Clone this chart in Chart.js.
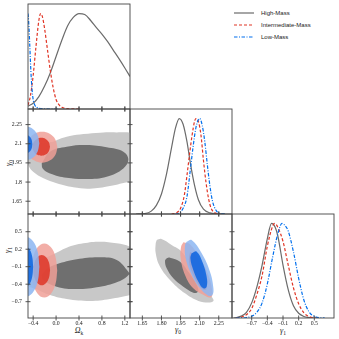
<!DOCTYPE html>
<html>
<head>
<meta charset="utf-8">
<script src="https://cdn.jsdelivr.net/npm/chart.js@4.4.1/dist/chart.umd.min.js"></script>
<style>
html, body { margin:0; padding:0; background:#fff; }
#wrap { position:relative; width:339px; height:339px; overflow:hidden; }
#wrap canvas { position:absolute; left:0; top:0; }
.lab { position:absolute; font-family:'Liberation Serif', serif; font-style:italic; font-size:8px; color:#222; white-space:nowrap; transform:translate(-50%,-50%); }
.lab sub { font-size:5.5px; font-style:normal; vertical-align:-1.5px; }
.rot { transform:translate(-50%,-50%) rotate(-90deg); }
#legend { position:absolute; left:234px; top:6.5px; font-family:'Liberation Sans', sans-serif; font-size:6px; color:#222; }
#legend div { height:12.3px; display:flex; align-items:center; }
#legend svg { margin-right:7px; }
</style>
</head>
<body>
<div id="wrap">
  <div class="lab" style="left:79px;top:331px">Ω<sub>k</sub></div>
  <div class="lab" style="left:178px;top:330px">γ<sub>0</sub></div>
  <div class="lab" style="left:283px;top:331px">γ<sub>1</sub></div>
  <div class="lab rot" style="left:9px;top:163px">γ<sub>0</sub></div>
  <div class="lab rot" style="left:8px;top:250px">γ<sub>1</sub></div>
  <div id="legend"></div>
</div>
<script>
// SERIES
const seriesNames = ['High-Mass', 'Intermediate-Mass', 'Low-Mass'];

// TICKS
const omegaTicks = [-0.4, 0.0, 0.4, 0.8, 1.2];
const omegaLabels = ['\u22120.4', '0.0', '0.4', '0.8', '1.2'];
const gamma0Ticks = [1.65, 1.80, 1.95, 2.10, 2.25];
const gamma0XLabels = ['1.65', '1.80', '1.95', '2.10', '2.25'];
const gamma0YLabels = ['1.65', '1.8', '1.95', '2.1', '2.25'];
const gamma1Ticks = [-0.7, -0.4, -0.1, 0.2, 0.5];
const gamma1Labels = ['\u22120.7', '\u22120.4', '\u22120.1', '0.2', '0.5'];

// 1D POSTERIORS  [value, density]
const omegaHigh = [[-0.49,0.03],[-0.4,0.06],[-0.3,0.13],[-0.2,0.24],[-0.1,0.38],[0.0,0.55],[0.1,0.72],[0.2,0.87],[0.3,0.96],[0.4,1.0],[0.5,0.99],[0.6,0.93],[0.7,0.855],[0.8,0.785],[0.9,0.705],[1.0,0.615],[1.1,0.525],[1.2,0.43],[1.29,0.34]];
const omegaInter = [[-0.49,0.04],[-0.45,0.13],[-0.40,0.35],[-0.35,0.66],[-0.30,0.93],[-0.27,1.0],[-0.24,0.97],[-0.20,0.84],[-0.15,0.62],[-0.10,0.40],[-0.05,0.22],[0.0,0.10],[0.05,0.045],[0.1,0.018],[0.2,0.004],[0.3,0.001],[0.42,0.0]];
const omegaLow = [[-0.49,1.0],[-0.48,0.93],[-0.46,0.68],[-0.44,0.40],[-0.42,0.21],[-0.40,0.10],[-0.37,0.04],[-0.33,0.015],[-0.25,0.004],[-0.1,0.0],[0.03,0.0]];

const gamma0High = [[1.60,0.0],[1.67,0.005],[1.72,0.03],[1.76,0.09],[1.80,0.21],[1.84,0.42],[1.88,0.70],[1.91,0.90],[1.94,1.0],[1.97,0.94],[2.00,0.76],[2.03,0.51],[2.06,0.30],[2.09,0.15],[2.13,0.05],[2.18,0.012],[2.24,0.002],[2.30,0.0]];
const gamma0Inter = [[1.88,0.0],[1.92,0.015],[1.95,0.06],[1.98,0.20],[2.00,0.40],[2.02,0.62],[2.04,0.82],[2.06,0.97],[2.07,1.0],[2.09,0.97],[2.11,0.83],[2.13,0.56],[2.15,0.33],[2.17,0.16],[2.19,0.06],[2.22,0.012],[2.26,0.0]];
const gamma0Low = [[1.91,0.0],[1.94,0.01],[1.97,0.06],[2.00,0.18],[2.03,0.50],[2.05,0.72],[2.07,0.90],[2.09,0.99],[2.10,1.0],[2.12,0.93],[2.14,0.76],[2.16,0.52],[2.18,0.30],[2.20,0.14],[2.23,0.035],[2.27,0.003],[2.30,0.0]];

const gamma1High = [[-1.05,0.0],[-1.0,0.005],[-0.9,0.02],[-0.8,0.06],[-0.7,0.16],[-0.6,0.33],[-0.5,0.56],[-0.4,0.84],[-0.32,1.0],[-0.25,0.96],[-0.2,0.87],[-0.1,0.56],[0.0,0.30],[0.1,0.13],[0.2,0.05],[0.3,0.016],[0.4,0.005],[0.5,0.0]];
const gamma1Inter = [[-1.0,0.0],[-0.9,0.01],[-0.8,0.035],[-0.7,0.10],[-0.6,0.25],[-0.5,0.45],[-0.4,0.76],[-0.3,0.97],[-0.26,1.0],[-0.2,0.96],[-0.1,0.81],[0.0,0.56],[0.1,0.32],[0.2,0.15],[0.3,0.055],[0.4,0.015],[0.5,0.002],[0.6,0.0]];
const gamma1Low = [[-1.0,0.0],[-0.8,0.005],[-0.7,0.02],[-0.6,0.06],[-0.5,0.16],[-0.4,0.36],[-0.3,0.64],[-0.2,0.89],[-0.12,1.0],[-0.05,0.97],[0.0,0.92],[0.1,0.70],[0.2,0.42],[0.3,0.19],[0.4,0.065],[0.5,0.018],[0.6,0.003],[0.7,0.0]];

// 2D CONTOURS (68% inner / 95% outer)  [x, y]
// Omega_k vs gamma0
const omG0HighOuter = [[-0.5,2.05],[-0.3,2.10],[-0.05,2.116],[0.04,2.134],[0.24,2.16],[0.48,2.176],[0.77,2.187],[1.06,2.189],[1.29,2.187],[1.4,2.18],[1.45,2.0],[1.4,1.80],[1.29,1.803],[0.94,1.769],[0.59,1.748],[0.30,1.759],[0.01,1.79],[-0.22,1.829],[-0.40,1.881],[-0.47,1.92],[-0.5,1.97],[-0.5,2.05]];
const omG0HighInner = [[-0.251,1.946],[-0.106,2.038],[0.185,2.077],[0.534,2.090],[0.883,2.072],[1.174,2.038],[1.261,1.978],[1.174,1.907],[0.883,1.842],[0.534,1.824],[0.185,1.834],[-0.106,1.868],[-0.234,1.907],[-0.251,1.946]];
const omG0InterOuter = [[0.023,2.073],[-0.013,2.134],[-0.111,2.178],[-0.245,2.194],[-0.379,2.178],[-0.477,2.134],[-0.513,2.073],[-0.477,2.012],[-0.379,1.968],[-0.245,1.952],[-0.111,1.968],[-0.013,2.012],[0.023,2.073]];
const omG0InterInner = [[-0.106,2.076],[-0.126,2.111],[-0.182,2.137],[-0.258,2.146],[-0.334,2.137],[-0.390,2.111],[-0.41,2.076],[-0.390,2.041],[-0.334,2.015],[-0.258,2.006],[-0.182,2.015],[-0.126,2.041],[-0.106,2.076]];
const omG0LowOuter = [[-0.292,2.103],[-0.323,2.168],[-0.406,2.216],[-0.52,2.233],[-0.634,2.216],[-0.717,2.168],[-0.748,2.103],[-0.717,2.038],[-0.634,1.99],[-0.52,1.973],[-0.406,1.99],[-0.323,2.038],[-0.292,2.103]];
const omG0LowInner = [[-0.414,2.097],[-0.428,2.133],[-0.467,2.159],[-0.52,2.169],[-0.573,2.159],[-0.612,2.133],[-0.626,2.097],[-0.612,2.061],[-0.573,2.035],[-0.52,2.025],[-0.467,2.035],[-0.428,2.061],[-0.414,2.097]];

// Omega_k vs gamma1
const omG1HighOuter = [[-0.5,0.0],[-0.2,0.05],[-0.048,0.112],[0.185,0.226],[0.476,0.301],[0.767,0.329],[1.057,0.301],[1.29,0.243],[1.42,0.15],[1.45,-0.2],[1.42,-0.55],[1.29,-0.586],[0.941,-0.654],[0.592,-0.688],[0.185,-0.654],[-0.106,-0.586],[-0.31,-0.50],[-0.5,-0.40],[-0.5,0.0]];
const omG1HighInner = [[-0.251,-0.242],[-0.15,-0.13],[0.01,-0.059],[0.359,0.026],[0.767,0.061],[1.057,0.015],[1.261,-0.185],[1.278,-0.231],[1.116,-0.345],[0.767,-0.443],[0.359,-0.483],[0.01,-0.443],[-0.222,-0.328],[-0.251,-0.242]];
const omG1InterOuter = [[0.02,-0.165],[-0.010,0.068],[-0.093,0.238],[-0.205,0.30],[-0.318,0.238],[-0.400,0.068],[-0.43,-0.165],[-0.400,-0.398],[-0.318,-0.568],[-0.205,-0.63],[-0.093,-0.568],[-0.010,-0.398],[0.02,-0.165]];
const omG1InterInner = [[-0.105,-0.16],[-0.124,-0.03],[-0.178,0.065],[-0.25,0.10],[-0.323,0.065],[-0.376,-0.03],[-0.395,-0.16],[-0.376,-0.29],[-0.323,-0.385],[-0.25,-0.42],[-0.178,-0.385],[-0.124,-0.29],[-0.105,-0.16]];
const omG1LowOuter = [[-0.29,-0.10],[-0.321,0.155],[-0.405,0.342],[-0.52,0.41],[-0.635,0.342],[-0.719,0.155],[-0.75,-0.10],[-0.719,-0.355],[-0.635,-0.542],[-0.52,-0.61],[-0.405,-0.542],[-0.321,-0.355],[-0.29,-0.10]];
const omG1LowInner = [[-0.40,-0.10],[-0.416,0.07],[-0.46,0.194],[-0.52,0.24],[-0.58,0.194],[-0.624,0.07],[-0.64,-0.10],[-0.624,-0.27],[-0.58,-0.394],[-0.52,-0.44],[-0.46,-0.394],[-0.416,-0.27],[-0.40,-0.10]];

// gamma0 vs gamma1
const g0G1HighOuter = [[1.763,0.358],[1.80,0.375],[1.880,0.272],[1.959,0.158],[2.037,-0.10],[2.129,-0.40],[2.200,-0.631],[2.208,-0.688],[2.168,-0.716],[2.090,-0.688],[1.985,-0.557],[1.880,-0.357],[1.789,-0.10],[1.755,0.129],[1.755,0.301],[1.763,0.358]];
const g0G1HighInner = [[1.841,0.043],[1.867,0.055],[1.946,-0.014],[2.011,-0.185],[2.064,-0.357],[2.090,-0.50],[2.077,-0.546],[2.050,-0.546],[1.972,-0.443],[1.893,-0.30],[1.841,-0.128],[1.828,-0.002],[1.841,0.043]];
const g0G1InterOuter = [[1.972,0.318],[2.024,0.284],[2.103,0.043],[2.168,-0.242],[2.200,-0.528],[2.189,-0.626],[2.142,-0.597],[2.050,-0.471],[1.985,-0.242],[1.951,0.043],[1.954,0.243],[1.972,0.318]];
const g0G1InterInner = [[2.024,0.158],[2.077,0.072],[2.129,-0.185],[2.155,-0.443],[2.142,-0.50],[2.103,-0.443],[2.050,-0.242],[2.016,-0.014],[2.024,0.158]];
const g0G1LowOuter = [[1.998,0.329],[2.037,0.358],[2.116,0.129],[2.181,-0.185],[2.208,-0.471],[2.200,-0.586],[2.168,-0.597],[2.103,-0.471],[2.037,-0.242],[1.990,0.043],[1.985,0.272],[1.998,0.329]];
const g0G1LowInner = [[2.037,0.129],[2.077,0.158],[2.121,-0.014],[2.155,-0.271],[2.155,-0.443],[2.129,-0.471],[2.090,-0.357],[2.050,-0.157],[2.027,0.043],[2.037,0.129]];

// STYLE
const lineColors = ['#6b6b6b', '#E03424', '#006FED'];
const lineDash = [[], [3, 2], [3.5, 1.5, 1, 1.5]];
const fillColors = [['#c8c8c8', '#6f6f6f'], ['rgba(240,160,152,0.85)', 'rgba(222,52,38,0.85)'], ['rgba(140,182,242,0.85)', 'rgba(10,100,225,0.85)']];

const W = 339;
const colsPx = [[28, 130], [130, 232], [232, 334]];
const rowsPx = [[4, 109], [109, 214], [214, 318]];
const omegaRange = [-0.49, 1.29];
const gamma0XRange = [1.553, 2.354];
const gamma0YRange = [1.55, 2.372];
const gamma1XRange = [-1.077, 0.877];
const gamma1YRange = [-0.98, 0.804];

// frame + ticks in and out
const framePlugin = {
  id: 'frame',
  afterDraw(chart, args, o) {
    const ctx = chart.ctx, a = chart.chartArea, sc = chart.scales;
    ctx.save();
    ctx.strokeStyle = '#444';
    ctx.lineWidth = 0.9;
    ctx.strokeRect(a.left, a.top, a.right - a.left, a.bottom - a.top);
    ctx.beginPath();
    (o.xt || []).forEach(v => {
      const px = sc.x.getPixelForValue(v);
      ctx.moveTo(px, a.bottom - 2.5); ctx.lineTo(px, a.bottom + 2.5);
      if (o.all) { ctx.moveTo(px, a.top - 2.5); ctx.lineTo(px, a.top + 2.5); }
    });
    (o.yt || []).forEach(v => {
      const py = sc.y.getPixelForValue(v);
      ctx.moveTo(a.left - 2.5, py); ctx.lineTo(a.left + 2.5, py);
      ctx.moveTo(a.right - 2.5, py); ctx.lineTo(a.right + 2.5, py);
    });
    ctx.stroke();
    ctx.restore();
  }
};

function toPts(arr) { return arr.map(p => ({x: p[0], y: p[1]})); }

function curveSets(curves) {
  return curves.map((c, i) => ({
    label: seriesNames[i], data: toPts(c), showLine: true, fill: false,
    borderColor: lineColors[i], borderWidth: 1.2, borderDash: lineDash[i],
    pointRadius: 0, cubicInterpolationMode: 'monotone', order: 3 - i
  }));
}

function contourSets(groups) {
  let out = [];
  groups.forEach((g, i) => {
    g.forEach((shape, j) => {
      out.push({
        label: seriesNames[i], data: toPts(shape), showLine: true, fill: 'shape',
        backgroundColor: fillColors[i][j], borderColor: 'rgba(0,0,0,0)', borderWidth: 0,
        pointRadius: 0, tension: 0.4, order: 10 - (i * 2 + j)
      });
    });
  });
  return out;
}

function axisOpt(range, ticks, labels, show, isX) {
  let ax = {
    type: 'linear', min: range[0], max: range[1], display: show,
    grid: {display: false, drawTicks: false}, border: {display: false},
    afterBuildTicks: s => { s.ticks = ticks.map(v => ({value: v})); },
    ticks: {
      autoSkip: false, maxRotation: 0, minRotation: 0, padding: isX ? 2 : 6,
      color: '#222', font: {family: 'Liberation Serif', size: 5.8},
      callback: (v, i) => labels ? labels[i] : ''
    }
  };
  // only labelled axes take room next to the panel
  if (show) ax.afterFit = s => { if (isX) s.height = 16; else s.width = 20; };
  return ax;
}

function panel(r, c, o) {
  let can = document.createElement('canvas');
  can.width = W; can.height = W;
  can.style.width = W + 'px'; can.style.height = W + 'px';
  document.getElementById('wrap').appendChild(can);
  const showX = !!o.xLabels, showY = !!o.yLabels;
  return new Chart(can.getContext('2d'), {
    type: 'scatter',
    data: {datasets: o.datasets},
    options: {
      responsive: false, animation: false, events: [],
      layout: {padding: {
        left: colsPx[c][0] - (showY ? 20 : 0), top: rowsPx[r][0],
        right: W - colsPx[c][1], bottom: W - rowsPx[r][1] - (showX ? 16 : 0)
      }},
      elements: {line: {capBezierPoints: false}},
      scales: {
        x: axisOpt(o.xr, o.xt, o.xLabels, showX, true),
        y: axisOpt(o.yr, o.yt || [], o.yLabels, showY, false)
      },
      plugins: {legend: {display: false}, tooltip: {enabled: false},
        frame: {xt: o.xt, yt: o.ytMarks, all: o.all}}
    },
    plugins: [framePlugin]
  });
}

// 1D panels
panel(0, 0, {xr: omegaRange, xt: omegaTicks, yr: [0, 1.1],
  datasets: curveSets([omegaHigh, omegaInter, omegaLow])});
panel(1, 1, {xr: gamma0XRange, xt: gamma0Ticks, yr: [0, 1.1],
  datasets: curveSets([gamma0High, gamma0Inter, gamma0Low])});
panel(2, 2, {xr: gamma1XRange, xt: gamma1Ticks, yr: [0, 1.1], xLabels: gamma1Labels,
  datasets: curveSets([gamma1High, gamma1Inter, gamma1Low])});

// 2D panels
panel(1, 0, {xr: omegaRange, xt: omegaTicks, yr: gamma0YRange, yt: gamma0Ticks, ytMarks: gamma0Ticks,
  yLabels: gamma0YLabels, all: true,
  datasets: contourSets([[omG0HighOuter, omG0HighInner], [omG0InterOuter, omG0InterInner], [omG0LowOuter, omG0LowInner]])});
panel(2, 0, {xr: omegaRange, xt: omegaTicks, yr: gamma1YRange, yt: gamma1Ticks, ytMarks: gamma1Ticks,
  xLabels: omegaLabels, yLabels: gamma1Labels, all: true,
  datasets: contourSets([[omG1HighOuter, omG1HighInner], [omG1InterOuter, omG1InterInner], [omG1LowOuter, omG1LowInner]])});
panel(2, 1, {xr: gamma0XRange, xt: gamma0Ticks, yr: gamma1YRange, yt: gamma1Ticks, ytMarks: gamma1Ticks,
  xLabels: gamma0XLabels, all: true,
  datasets: contourSets([[g0G1HighOuter, g0G1HighInner], [g0G1InterOuter, g0G1InterInner], [g0G1LowOuter, g0G1LowInner]])});

// LEGEND
let leg = document.getElementById('legend');
seriesNames.forEach((name, i) => {
  let row = document.createElement('div');
  row.innerHTML = '<svg width="20" height="4"><line x1="0" y1="2" x2="20" y2="2" stroke="' + lineColors[i] +
    '" stroke-width="1.2" stroke-dasharray="' + (lineDash[i].length ? lineDash[i].join(' ') : 'none') + '"/></svg><span>' + name + '</span>';
  leg.appendChild(row);
});
</script>
</body>
</html>
